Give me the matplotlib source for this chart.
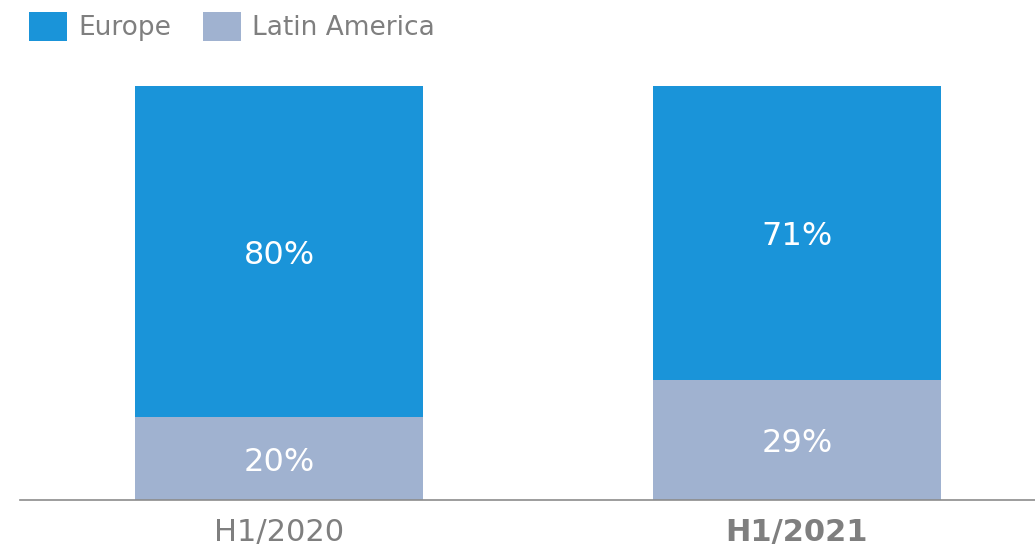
import matplotlib
matplotlib.use("Agg")
from matplotlib import pyplot as plt

# datos
periodos = ["H1/2020", "H1/2021"]
latam = [20, 29]
europa = [80, 71]

c_europa = "#1A94D9"
c_latam = "#A0B2D0"
gris = "#7F7F7F"

plt.rcParams["font.family"] = ["DejaVu Sans"]

fig = plt.figure(figsize=(10.35, 5.47), dpi=100)
ax = fig.add_axes([20 / 1035, 47 / 547, 1015 / 1035, (500 - 86) / 547])

x = list(range(len(periodos)))
ancho = 0.556
b1 = ax.bar(x, latam, ancho, color=c_latam, label="Latin America")
b2 = ax.bar(x, europa, ancho, bottom=latam, color=c_europa, label="Europe")

for i in x:
    ax.text(i, latam[i] / 2, f"{latam[i]}%", ha="center", va="center_baseline",
            color="white", fontsize=23)
    ax.text(i, latam[i] + europa[i] / 2, f"{europa[i]}%", ha="center",
            va="center_baseline", color="white", fontsize=23)

ax.set_xlim(-0.5, 1.4595)
ax.set_ylim(0, 100)
ax.set_yticks([])
ax.set_xticks(x)
ax.set_xticklabels(periodos, fontsize=22, color=gris)
ax.get_xticklabels()[1].set_fontweight("bold")
ax.tick_params(axis="x", length=0, pad=13)
for s in ["top", "right", "left"]:
    ax.spines[s].set_visible(False)
ax.spines["bottom"].set_color("#8C8C8C")
ax.spines["bottom"].set_linewidth(1.2)

leg = fig.legend(handles=[b2, b1], loc="upper left",
                 bbox_to_anchor=(29 / 1035, 1 - 12 / 547), ncol=2, frameon=False,
                 fontsize=19, handlelength=1.44, handleheight=1.3,
                 handletextpad=0.42, columnspacing=1.2, borderpad=0,
                 borderaxespad=0)
for t in leg.get_texts():
    t.set_color(gris)

fig.savefig("out.png", dpi=100)
